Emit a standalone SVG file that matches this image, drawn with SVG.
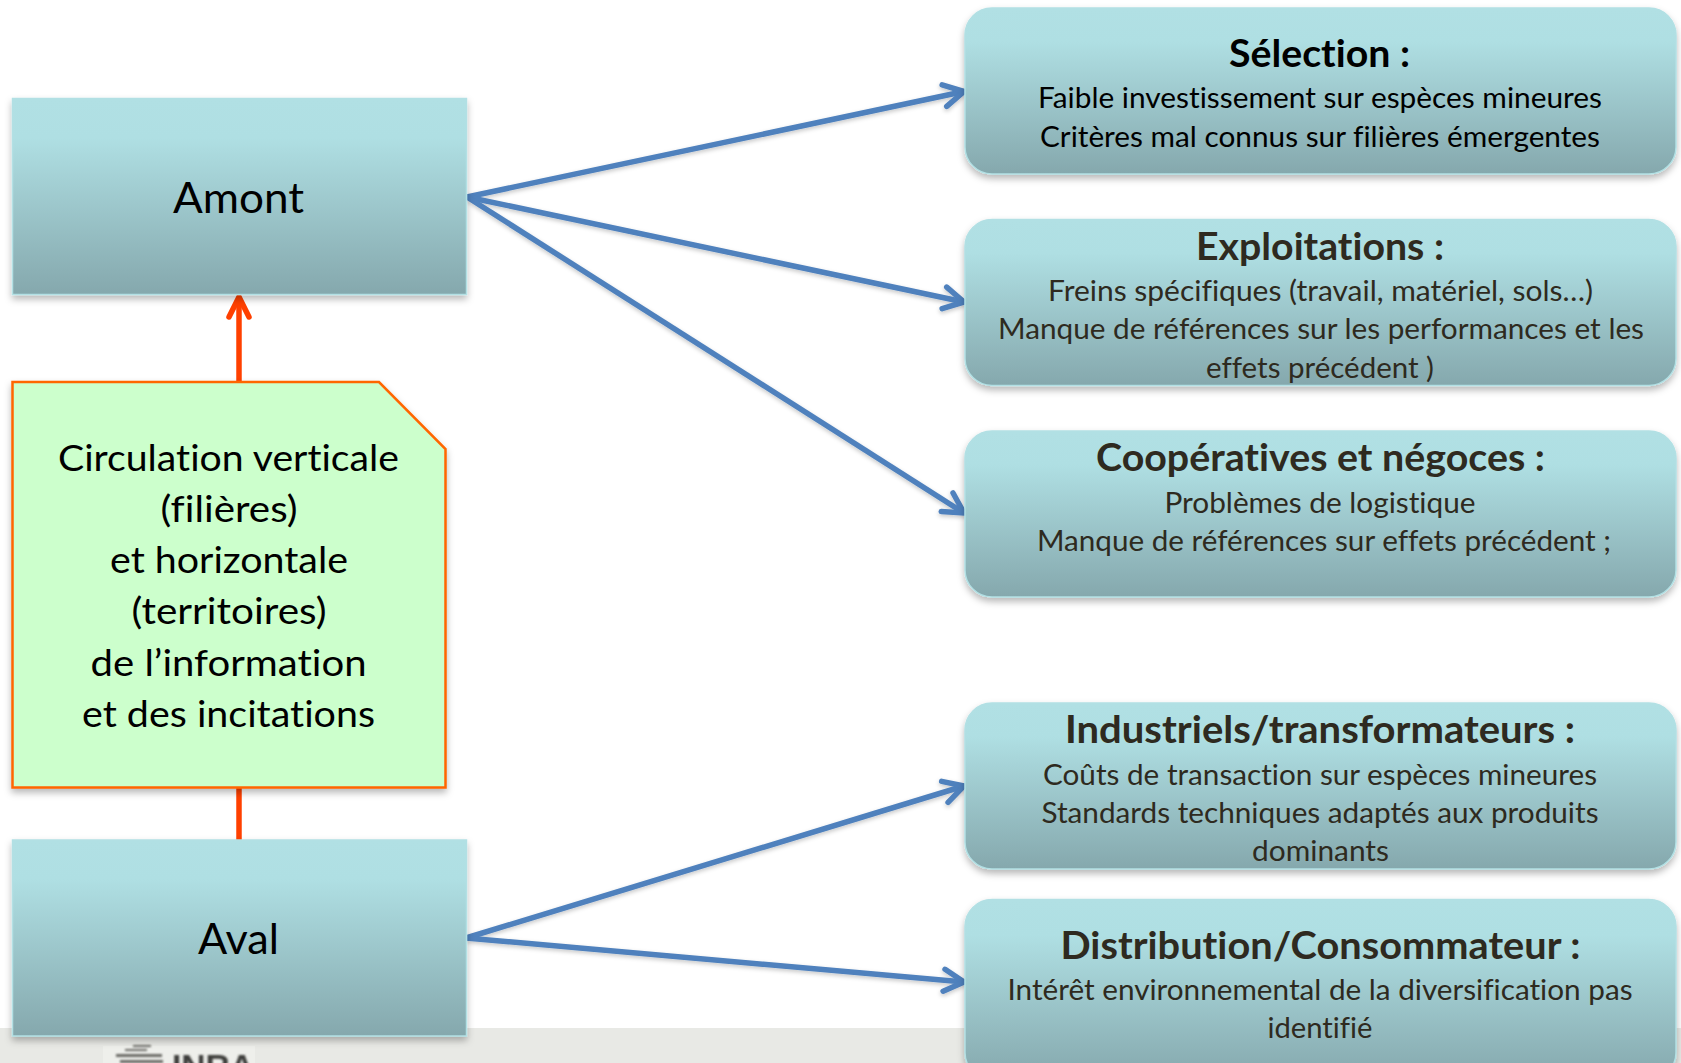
<svg xmlns="http://www.w3.org/2000/svg" width="1681" height="1063" viewBox="0 0 1681 1063">
<style>
text{font-family:"Lato","Noto Sans","Liberation Sans",sans-serif;font-variant-ligatures:none}
.box{fill:url(#g);stroke:#b2e0e4;stroke-width:1.500;filter:url(#sh)}
.t{font-size:38px;font-weight:700;fill:#2e2a20}
.b{font-size:28px;fill:#2e2a20}
.k{fill:#000}
.big{font-size:42px;fill:#000}
.mid{font-size:37.500px;fill:#000}
.blue{fill:none;stroke:#4f81bd;stroke-width:5.500}
.red{fill:none;stroke:#ff4000;stroke-width:5.500}
</style>
<defs>
<linearGradient id="g" x1="0" y1="0" x2="0" y2="1">
<stop offset="0" stop-color="#b1e0e4"/><stop offset=".2" stop-color="#afdfe3"/><stop offset="1" stop-color="#85a8ad"/>
</linearGradient>
<filter id="sh" x="-5%" y="-10%" width="110%" height="125%"><feDropShadow dx="0" dy="4" stdDeviation="3.500" flood-color="#000" flood-opacity=".28"/></filter>
<filter id="ls" x="-5%" y="-20%" width="110%" height="140%"><feDropShadow dx="0" dy="2" stdDeviation="2" flood-color="#000" flood-opacity=".22"/></filter>
<filter id="soft"><feGaussianBlur stdDeviation=".9"/></filter>
<marker id="ab" markerUnits="userSpaceOnUse" markerWidth="40" markerHeight="40" viewBox="-30 -20 40 40" refX="0" refY="0" orient="auto"><path d="M-20,-11 L0,0 L-20,11" fill="none" stroke="#4f81bd" stroke-width="5.500" stroke-linecap="round" stroke-linejoin="miter"/></marker>
<marker id="ar" markerUnits="userSpaceOnUse" markerWidth="40" markerHeight="40" viewBox="-30 -20 40 40" refX="0" refY="0" orient="auto"><path d="M-20,-10 L0,0 L-20,10" fill="none" stroke="#ff4000" stroke-width="5.500" stroke-linecap="round" stroke-linejoin="miter"/></marker>
</defs>
<rect width="1681" height="1063" fill="#fff"/>
<g id="footer">
<rect y="1028" width="1681" height="35" fill="#e8e9e5"/>
<rect x="103" y="1046" width="152" height="17" fill="#eeefeb"/>
<g filter="url(#soft)" fill="#6a6a66"><rect x="133" y="1045" width="18" height="2"/><rect x="125" y="1049" width="22" height="2"/><rect x="116" y="1054" width="46" height="3"/><rect x="120" y="1060" width="43" height="3"/></g>
<text x="172" y="1078" font-size="33" font-weight="700" fill="#3c3c3a" textLength="82" lengthAdjust="spacingAndGlyphs" filter="url(#soft)" style="font-family:'Liberation Sans',sans-serif">INRA</text>
</g>
<g id="connectors">
<g filter="url(#ls)">
<path class="blue" marker-end="url(#ab)" d="M467,197 L964,91.500"/>
<path class="blue" marker-end="url(#ab)" d="M467,197 L964,302"/>
<path class="blue" marker-end="url(#ab)" d="M467,197 L964,513"/>
<path class="blue" marker-end="url(#ab)" d="M466,938 L964,786"/>
<path class="blue" marker-end="url(#ab)" d="M466,938 L964,982"/>
</g>
<path class="red" marker-end="url(#ar)" d="M239,840 L239,297"/>
</g>
<g id="amont"><rect class="box" x="12.500" y="98.500" width="454" height="196"/>
<text class="big" x="173" y="213" textLength="131" lengthAdjust="spacingAndGlyphs">Amont</text></g>
<g id="aval"><rect class="box" x="12.500" y="840" width="454" height="196"/>
<text class="big" x="198" y="954" textLength="81" lengthAdjust="spacingAndGlyphs">Aval</text></g>
<g id="note">
<path d="M12.500,382 L379,382 L445.500,449 L445.500,787.500 L12.500,787.500 Z" fill="#ccffcc" stroke="#ff6600" stroke-width="2.500" filter="url(#sh)"/>
<text class="mid" x="58" y="471" textLength="341" lengthAdjust="spacingAndGlyphs">Circulation verticale</text>
<text class="mid" x="160.500" y="522" textLength="137" lengthAdjust="spacingAndGlyphs">(filières)</text>
<text class="mid" x="110" y="573" textLength="238" lengthAdjust="spacingAndGlyphs">et horizontale</text>
<text class="mid" x="131.500" y="624" textLength="195" lengthAdjust="spacingAndGlyphs">(territoires)</text>
<text class="mid" x="90.500" y="676" textLength="276" lengthAdjust="spacingAndGlyphs">de l’information</text>
<text class="mid" x="82" y="727" textLength="293" lengthAdjust="spacingAndGlyphs">et des incitations</text>
</g>
<g id="selection"><rect class="box" x="965" y="8" width="711" height="166" rx="27"/>
<text class="t k" x="1229" y="67" textLength="181" lengthAdjust="spacingAndGlyphs">Sélection :</text>
<text class="b k" x="1038" y="108" textLength="564" lengthAdjust="spacingAndGlyphs">Faible investissement sur espèces mineures</text>
<text class="b k" x="1040" y="147" textLength="560" lengthAdjust="spacingAndGlyphs">Critères mal connus sur filières émergentes</text></g>
<g id="exploitations"><rect class="box" x="965" y="219.500" width="711" height="166" rx="27"/>
<text class="t" x="1196" y="259.500" textLength="248" lengthAdjust="spacingAndGlyphs">Exploitations :</text>
<text class="b" x="1048" y="300.500" textLength="545" lengthAdjust="spacingAndGlyphs">Freins spécifiques (travail, matériel, sols…)</text>
<text class="b" x="998" y="338.500" textLength="646" lengthAdjust="spacingAndGlyphs">Manque de références sur les performances et les</text>
<text class="b" x="1206" y="377.500" textLength="228" lengthAdjust="spacingAndGlyphs">effets précédent )</text></g>
<g id="cooperatives"><rect class="box" x="965" y="431" width="711" height="166" rx="27"/>
<text class="t" x="1096" y="471" textLength="449" lengthAdjust="spacingAndGlyphs">Coopératives et négoces :</text>
<text class="b" x="1164.500" y="513" textLength="311" lengthAdjust="spacingAndGlyphs">Problèmes de logistique</text>
<text class="b" x="1037" y="551" textLength="574" lengthAdjust="spacingAndGlyphs">Manque de références sur effets précédent ;</text></g>
<g id="industriels"><rect class="box" x="965" y="703" width="711" height="166" rx="27"/>
<text class="t" x="1065" y="742.500" textLength="510" lengthAdjust="spacingAndGlyphs">Industriels/transformateurs :</text>
<text class="b" x="1043" y="785" textLength="554" lengthAdjust="spacingAndGlyphs">Coûts de transaction sur espèces mineures</text>
<text class="b" x="1041.500" y="822.500" textLength="557" lengthAdjust="spacingAndGlyphs">Standards techniques adaptés aux produits</text>
<text class="b" x="1252" y="860.500" textLength="137" lengthAdjust="spacingAndGlyphs">dominants</text></g>
<g id="distribution"><rect class="box" x="965" y="899.500" width="711" height="180" rx="27"/>
<text class="t" x="1060.500" y="958.500" textLength="520" lengthAdjust="spacingAndGlyphs">Distribution/Consommateur :</text>
<text class="b" x="1007.500" y="1000" textLength="625" lengthAdjust="spacingAndGlyphs">Intérêt environnemental de la diversification pas</text>
<text class="b" x="1267.500" y="1038" textLength="105" lengthAdjust="spacingAndGlyphs">identifié</text></g>
</svg>
